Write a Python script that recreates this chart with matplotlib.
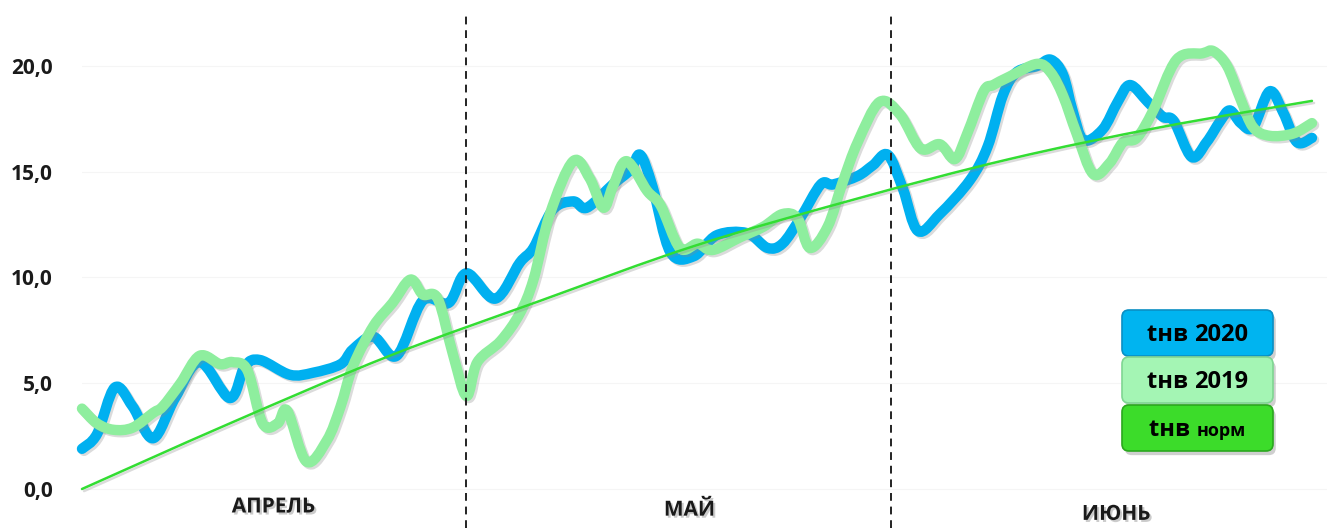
import numpy as np
import matplotlib
matplotlib.use("Agg")
import matplotlib.pyplot as plt
from matplotlib.path import Path
from matplotlib.patches import PathPatch, FancyBboxPatch
import matplotlib.patheffects as pe

plt.rcParams['font.family'] = ['Open Sans', 'DejaVu Sans']

# day of season (1 = 1 April) and daily mean temperature
days_2020 = [1.0, 2.1, 3.4, 4.7, 6.2, 7.8, 9.6, 11.8, 12.9, 14.0, 16.2, 17.9, 19.9, 20.8,
             22.3, 24.0, 25.9, 27.8, 29.1, 31.2, 33.0, 34.0, 35.4, 36.9, 37.9, 39.8, 41.1,
             41.8, 42.7, 44.0, 45.7, 47.4, 49.6, 51.1, 52.2, 53.5, 55.0, 55.9, 57.7, 58.8,
             59.9, 61.0, 62.1, 63.7, 65.9, 67.2, 68.3, 69.3, 70.8, 71.8, 72.7, 73.4, 74.2,
             75.6, 76.7, 77.6, 78.9, 80.0, 80.8, 82.1, 83.2, 84.2, 84.9, 85.7, 86.6, 87.8,
             88.8, 89.8, 90.9]
t_2020 = [1.9, 2.6, 4.8, 3.9, 2.4, 4.3, 6.0, 4.3, 5.8, 6.1, 5.4, 5.5, 5.9, 6.6,
          7.2, 6.3, 8.9, 8.8, 10.2, 9.0, 10.7, 11.4, 13.2, 13.6, 13.3, 14.4, 15.1,
          15.8, 14.3, 11.2, 11.0, 12.0, 12.1, 11.4, 11.6, 12.8, 14.4, 14.4, 14.8, 15.3,
          15.8, 14.2, 12.2, 13.0, 14.6, 16.2, 18.6, 19.7, 20.0, 20.3, 19.6, 17.9, 16.5,
          17.0, 18.3, 19.1, 18.3, 17.6, 17.4, 15.7, 16.4, 17.4, 17.9, 17.3, 17.1, 18.8,
          17.8, 16.4, 16.6]

days_2019 = [1.0, 2.1, 3.3, 4.7, 6.2, 6.9, 8.2, 9.6, 11.1, 12.0, 13.1, 14.2, 15.3, 16.0,
             17.4, 18.9, 19.9, 20.8, 22.3, 23.7, 25.0, 25.9, 27.0, 28.1, 29.1, 29.9, 31.6,
             33.0, 34.0, 35.2, 36.9, 38.1, 39.1, 39.8, 40.8, 42.3, 43.3, 44.7, 46.0, 47.1,
             49.1, 50.8, 52.2, 53.3, 54.2, 55.5, 56.6, 57.7, 59.3, 60.8, 62.3, 63.7, 64.8,
             65.7, 66.9, 67.6, 68.8, 70.8, 71.8, 72.7, 73.7, 74.9, 76.1, 77.1, 78.1, 79.3,
             81.0, 82.9, 83.7, 84.7, 85.7, 86.6, 87.8, 89.5, 90.9]
t_2019 = [3.8, 3.1, 2.8, 2.9, 3.6, 3.9, 5.0, 6.3, 5.9, 6.0, 5.6, 3.1, 3.1, 3.7,
          1.3, 2.3, 3.9, 5.8, 7.7, 8.8, 9.9, 9.2, 9.0, 6.4, 4.4, 6.0, 7.0,
          8.3, 9.9, 13.0, 15.5, 14.7, 13.3, 14.3, 15.5, 14.1, 13.4, 11.4, 11.6, 11.3,
          11.9, 12.4, 13.0, 12.8, 11.4, 12.4, 14.5, 16.4, 18.3, 17.7, 16.1, 16.3, 15.6,
          16.8, 18.8, 19.1, 19.5, 20.1, 19.7, 18.6, 16.8, 14.9, 15.4, 16.4, 16.6, 17.9,
          20.3, 20.6, 20.7, 20.0, 18.4, 17.1, 16.7, 16.8, 17.3]

days_norm = [1.0, 11.8, 23.5, 34.5, 45.8, 57.5, 68.8, 79.8, 90.9]
t_norm = [0.0, 3.1, 6.3, 8.9, 11.5, 13.7, 15.6, 17.1, 18.35]

month_days = [29.1, 60.1]          # dashed month separators
months = ['АПРЕЛЬ', 'МАЙ', 'ИЮНЬ']
month_x = [15.0, 45.4, 76.6]
month_y = [-0.85, -1.0, -1.2]
yticks = [0, 5, 10, 15, 20]
legend_labels = [('tнв', '2020'), ('tнв', '2019'), ('tнв', 'норм')]

c2020 = '#00b0f0'
c2019 = '#8eee9e'
cnorm = '#33dd33'


def smooth_path(xs, ys):
    # Catmull-Rom through the points, drawn as cubic Bezier (like a smoothed Excel line)
    p = np.column_stack([xs, ys]).astype(float)
    ext = np.vstack([p[0], p, p[-1]])
    verts = [p[0]]
    codes = [Path.MOVETO]
    for i in range(1, len(ext) - 2):
        p0, p1, p2, p3 = ext[i - 1], ext[i], ext[i + 1], ext[i + 2]
        verts += [p1 + (p2 - p0) / 6, p2 - (p3 - p1) / 6, p2]
        codes += [Path.CURVE4] * 3
    return Path(verts, codes)


fig = plt.figure(figsize=(13.27, 5.28), dpi=100)
ax = fig.add_axes([82 / 1327, 0, 1245 / 1327, 1])
ax.set_xlim(1, 92.0)
ax.set_ylim(-1.844, 23.12)
for s in ax.spines.values():
    s.set_visible(False)
ax.set_xticks([])
ax.set_yticks(yticks)
ax.set_yticklabels([f'{v:.1f}'.replace('.', ',') for v in yticks],
                   fontsize=15, fontweight='bold', color='#1a1a1a')
ax.tick_params(axis='y', length=0, pad=21)
for v in yticks:
    ax.axhline(v, color='#f5f5f5', lw=0.8, zorder=0)

shadow = [pe.SimpleLineShadow(offset=(1.5, -1.5), shadow_color='#888888', alpha=0.3),
          pe.Normal()]

for xs, ys, col, lw, z in [(days_2020, t_2020, c2020, 7.5, 3),
                           (days_2019, t_2019, c2019, 7.5, 4),
                           (days_norm, t_norm, cnorm, 1.8, 5)]:
    patch = PathPatch(smooth_path(xs, ys), facecolor='none', edgecolor=col, lw=lw,
                      capstyle='round', joinstyle='round', zorder=z, clip_on=False)
    patch.set_path_effects(shadow)
    ax.add_patch(patch)

ax.vlines(month_days, -1.844, 22.4, colors='#222222', linestyles=(0, (4, 3)), lw=1.4, zorder=6)

for m, mx, my in zip(months, month_x, month_y):
    ax.text(mx, my, m, ha='center', va='center', fontsize=15, fontweight='bold', color='#1a1a1a',
            path_effects=[pe.SimplePatchShadow(offset=(1.5, -1.5), shadow_rgbFace='#999999', alpha=0.5),
                          pe.Normal()])

# legend as stacked rounded buttons (figure pixel coordinates)
box_fc = ['#00b4f0', '#a4f5b4', '#3cdc2a']
box_ec = ['#0a8fc4', '#7fd692', '#2aa81e']
box_top = [310, 357, 405]
r = fig.canvas.get_renderer()
for (a, b), fc, ec, top in zip(legend_labels, box_fc, box_ec, box_top):
    x0, w, h = 1122, 151, 46
    y0 = 528 - top - h
    box = FancyBboxPatch((x0, y0), w, h, boxstyle='round,pad=0,rounding_size=7',
                         transform=None, facecolor=fc, edgecolor=ec, lw=1.2, zorder=10)
    box.set_path_effects([pe.SimplePatchShadow(offset=(2, -3), shadow_rgbFace='#777777', alpha=0.35),
                          pe.Normal()])
    fig.add_artist(box)
    small = b == 'норм'
    cx = x0 + w / 2
    cy = y0 + h / 2
    t1 = fig.text(0, 0, a + ' ', fontsize=17, fontweight='bold', color='black')
    t2 = fig.text(0, 0, b, fontsize=13 if small else 17, fontweight='bold', color='black')
    w1 = t1.get_window_extent(r).width
    w2 = t2.get_window_extent(r).width
    start = cx - (w1 + w2) / 2
    t1.set_transform(matplotlib.transforms.IdentityTransform())
    t2.set_transform(matplotlib.transforms.IdentityTransform())
    t1.set_position((start, cy - 8))
    t2.set_position((start + w1, cy - 8))
    t1.set_zorder(11)
    t2.set_zorder(11)

fig.savefig('out.png', dpi=100)
